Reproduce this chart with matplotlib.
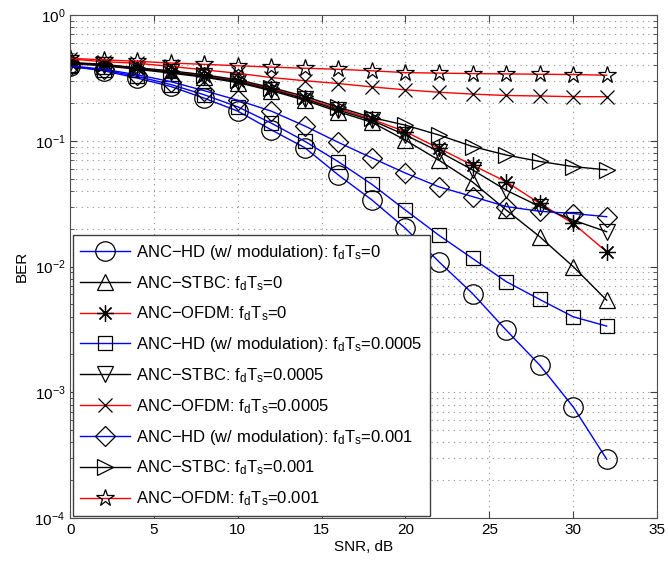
import numpy as np
import matplotlib
matplotlib.use('Agg')
import matplotlib.pyplot as plt
from matplotlib.ticker import LogLocator, NullFormatter

plt.rcParams['font.family'] = 'Liberation Sans'
plt.rcParams['mathtext.fontset'] = 'custom'
plt.rcParams['mathtext.rm'] = 'Liberation Sans'
plt.rcParams['mathtext.it'] = 'Liberation Sans:italic'
plt.rcParams['mathtext.bf'] = 'Liberation Sans:bold'

snr = np.arange(0, 33, 2)

# BER values
hd_0 = [0.39, 0.36, 0.315, 0.27, 0.218, 0.172, 0.122, 0.088, 0.0534, 0.0338,
        0.0201, 0.0109, 0.0061, 0.00313, 0.00165, 0.000767, 0.000294]
stbc_0 = [0.41, 0.395, 0.37, 0.345, 0.32, 0.29, 0.25, 0.21, 0.17, 0.14,
          0.101, 0.070, 0.047, 0.0282, 0.0173, 0.0100, 0.0054]
ofdm_0 = [0.415, 0.40, 0.377, 0.354, 0.33, 0.30, 0.26, 0.218, 0.18, 0.148,
          0.118, 0.087, 0.064, 0.0473, 0.0318, 0.0220, 0.0131]
hd_5 = [0.39, 0.365, 0.325, 0.28, 0.232, 0.186, 0.138, 0.099, 0.068, 0.045,
        0.0281, 0.0177, 0.0116, 0.0076, 0.00548, 0.00399, 0.00336]
stbc_5 = [0.415, 0.40, 0.375, 0.35, 0.325, 0.295, 0.255, 0.215, 0.175, 0.145,
          0.111, 0.082, 0.0587, 0.0405, 0.030, 0.0234, 0.0189]
ofdm_5 = [0.447, 0.425, 0.413, 0.39, 0.366, 0.344, 0.318, 0.30, 0.285, 0.268,
          0.254, 0.243, 0.235, 0.229, 0.227, 0.224, 0.224]
hd_10 = [0.395, 0.37, 0.335, 0.295, 0.25, 0.21, 0.172, 0.131, 0.097, 0.073,
         0.0553, 0.043, 0.036, 0.030, 0.0275, 0.0264, 0.0249]
stbc_10 = [0.42, 0.405, 0.38, 0.36, 0.335, 0.305, 0.265, 0.225, 0.185, 0.153,
           0.133, 0.111, 0.090, 0.077, 0.0685, 0.0623, 0.0587]
ofdm_10 = [0.452, 0.44, 0.428, 0.415, 0.405, 0.395, 0.385, 0.377, 0.37, 0.36,
           0.348, 0.345, 0.342, 0.34, 0.338, 0.336, 0.332]

fd = r'$\mathrm{f_dT_s}$'
labels = [
    'ANC\u2212HD (w/ modulation): ' + fd + '=0',
    'ANC\u2212STBC: ' + fd + '=0',
    'ANC\u2212OFDM: ' + fd + '=0',
    'ANC\u2212HD (w/ modulation): ' + fd + '=0.0005',
    'ANC\u2212STBC: ' + fd + '=0.0005',
    'ANC\u2212OFDM: ' + fd + '=0.0005',
    'ANC\u2212HD (w/ modulation): ' + fd + '=0.001',
    'ANC\u2212STBC: ' + fd + '=0.001',
    'ANC\u2212OFDM: ' + fd + '=0.001',
]
data = [hd_0, stbc_0, ofdm_0, hd_5, stbc_5, ofdm_5, hd_10, stbc_10, ofdm_10]
colors = ['#0000ff', 'k', '#ff0000'] * 3
markers = ['o', '^', (8, 2, 0), 's', 'v', 'x', 'D', '>', '*']
sizes = [14, 12, 12, 10, 12, 10, 10, 12, 13]

fig = plt.figure(figsize=(6.68, 5.65), dpi=100)
ax = fig.add_axes([0.105, 0.083, 0.8785, 0.8905])

for y, c, m, s, lab in zip(data, colors, markers, sizes, labels):
    ax.plot(snr, y, color=c, lw=1.0, marker=m, ms=s, mfc='none', mec='k',
            mew=0.9, label=lab)

ax.set_yscale('log')
ax.set_xlim(0, 35)
ax.set_ylim(1e-4, 1)
ax.set_xticks(range(0, 36, 5))
ax.yaxis.set_major_locator(LogLocator(base=10, numticks=10))
ax.yaxis.set_minor_locator(LogLocator(base=10, subs=np.arange(2, 10), numticks=20))
ax.yaxis.set_minor_formatter(NullFormatter())
ax.grid(True, which='major', ls=(0, (1, 4)), color='#909090', lw=0.8)
ax.grid(True, which='minor', axis='y', ls=(0, (1, 4)), color='#909090', lw=0.8)
ax.tick_params(direction='in', which='both', top=True, right=True,
               labelsize=11, color='#404040')
ax.tick_params(which='major', length=5)
ax.tick_params(which='minor', length=3)
for sp in ax.spines.values():
    sp.set_color('#505050')

ax.set_xlabel('SNR, dB', fontsize=11, labelpad=2)
ax.set_ylabel('BER', fontsize=11, labelpad=4)

ax.legend(loc='lower left', fontsize=12, handlelength=3.0, handletextpad=0.35,
          labelspacing=0.72, borderaxespad=0.15, borderpad=0.45,
          fancybox=False, edgecolor='#404040', framealpha=1)

fig.savefig('out.png', dpi=100)
